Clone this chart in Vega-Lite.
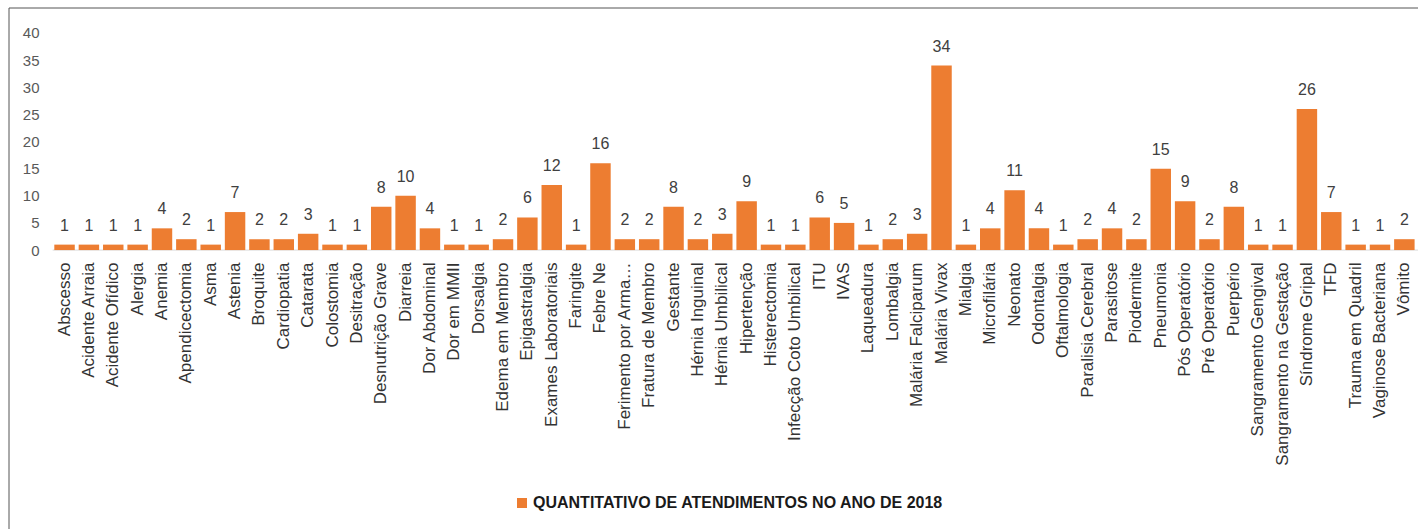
{
  "$schema": "https://vega.github.io/schema/vega-lite/v6.json",
  "width": 1409,
  "height": 521,
  "autosize": {"type": "none"},
  "padding": {"left": 9, "top": 8, "right": 0, "bottom": 0},
  "background": "#ffffff",
  "config": {"view": {"stroke": null}, "font": "Liberation Sans"},
  "datasets": {
    "atend": [
      {"Categoria": "Abscesso", "Valor": 1},
      {"Categoria": "Acidente Arraia", "Valor": 1},
      {"Categoria": "Acidente Ofídico", "Valor": 1},
      {"Categoria": "Alergia", "Valor": 1},
      {"Categoria": "Anemia", "Valor": 4},
      {"Categoria": "Apendicectomia", "Valor": 2},
      {"Categoria": "Asma", "Valor": 1},
      {"Categoria": "Astenia", "Valor": 7},
      {"Categoria": "Broquite", "Valor": 2},
      {"Categoria": "Cardiopatia", "Valor": 2},
      {"Categoria": "Catarata", "Valor": 3},
      {"Categoria": "Colostomia", "Valor": 1},
      {"Categoria": "Desitração", "Valor": 1},
      {"Categoria": "Desnutrição Grave", "Valor": 8},
      {"Categoria": "Diarreia", "Valor": 10},
      {"Categoria": "Dor Abdominal", "Valor": 4},
      {"Categoria": "Dor em MMII", "Valor": 1},
      {"Categoria": "Dorsalgia", "Valor": 1},
      {"Categoria": "Edema em Membro", "Valor": 2},
      {"Categoria": "Epigastralgia", "Valor": 6},
      {"Categoria": "Exames Laboratoriais", "Valor": 12},
      {"Categoria": "Faringite", "Valor": 1},
      {"Categoria": "Febre Ne", "Valor": 16},
      {"Categoria": "Ferimento por Arma…", "Valor": 2},
      {"Categoria": "Fratura de Membro", "Valor": 2},
      {"Categoria": "Gestante", "Valor": 8},
      {"Categoria": "Hérnia Inguinal", "Valor": 2},
      {"Categoria": "Hérnia Umbilical", "Valor": 3},
      {"Categoria": "Hipertenção", "Valor": 9},
      {"Categoria": "Histerectomia", "Valor": 1},
      {"Categoria": "Infecção Coto Umbilical", "Valor": 1},
      {"Categoria": "ITU", "Valor": 6},
      {"Categoria": "IVAS", "Valor": 5},
      {"Categoria": "Laqueadura", "Valor": 1},
      {"Categoria": "Lombalgia", "Valor": 2},
      {"Categoria": "Malária Falciparum", "Valor": 3},
      {"Categoria": "Malária Vivax", "Valor": 34},
      {"Categoria": "Mialgia", "Valor": 1},
      {"Categoria": "Microfilária", "Valor": 4},
      {"Categoria": "Neonato", "Valor": 11},
      {"Categoria": "Odontalgia", "Valor": 4},
      {"Categoria": "Oftalmologia", "Valor": 1},
      {"Categoria": "Paralisia Cerebral", "Valor": 2},
      {"Categoria": "Parasitose", "Valor": 4},
      {"Categoria": "Piodermite", "Valor": 2},
      {"Categoria": "Pneumonia", "Valor": 15},
      {"Categoria": "Pós Operatório", "Valor": 9},
      {"Categoria": "Pré Operatório", "Valor": 2},
      {"Categoria": "Puerpério", "Valor": 8},
      {"Categoria": "Sangramento Gengival", "Valor": 1},
      {"Categoria": "Sangramento na Gestação", "Valor": 1},
      {"Categoria": "Síndrome Gripal", "Valor": 26},
      {"Categoria": "TFD", "Valor": 7},
      {"Categoria": "Trauma em Quadril", "Valor": 1},
      {"Categoria": "Vaginose Bacteriana", "Valor": 1},
      {"Categoria": "Vômito", "Valor": 2}
    ],
    "moldura": [{"parte": "frame"}]
  },
  "resolve": {"scale": {"x": "independent"}, "axis": {"x": "independent"}},
  "layer": [
    {
      "data": {"name": "moldura"},
      "mark": {"type": "rule", "color": "#555555", "strokeWidth": 1},
      "encoding": {"y": {"datum": 44.6, "type": "quantitative"}}
    },
    {
      "data": {"name": "moldura"},
      "mark": {"type": "rule", "color": "#555555", "strokeWidth": 1},
      "encoding": {
        "x": {"datum": 0, "type": "quantitative", "scale": {"domain": [0, 1], "nice": false, "zero": false}, "axis": null}
      }
    },
    {
      "data": {"name": "moldura"},
      "mark": {"type": "rule", "color": "#d9d9d9", "strokeWidth": 1},
      "encoding": {
        "x": {"datum": 0.031, "type": "quantitative", "scale": {"domain": [0, 1], "nice": false, "zero": false}, "axis": null},
        "x2": {"datum": 1},
        "y": {"datum": 0, "type": "quantitative"}
      }
    },
    {
      "data": {"name": "atend"},
      "layer": [
        {
          "mark": {"type": "bar", "color": "#ED7D31"},
          "encoding": {
            "x": {
              "field": "Categoria", "type": "nominal", "sort": null,
              "scale": {"paddingInner": 0.16, "paddingOuter": 1.036, "align": 0.93},
              "axis": {
                "title": null, "orient": "bottom", "offset": -279, "domain": false, "ticks": false,
                "labelAngle": -90, "labelPadding": 12, "labelFontSize": 17, "labelColor": "#333333",
                "labelFont": "Liberation Sans", "labelLimit": 300
              }
            },
            "y": {
              "field": "Valor", "type": "quantitative",
              "scale": {"domain": [-51.4, 44.6], "nice": false, "zero": false},
              "axis": {
                "title": null, "values": [0, 5, 10, 15, 20, 25, 30, 35, 40], "grid": false, "domain": false,
                "ticks": false, "offset": -31, "labelPadding": 1, "labelFontSize": 15, "labelColor": "#595959",
                "labelFont": "Liberation Sans"
              }
            },
            "color": {
              "datum": "QUANTITATIVO DE ATENDIMENTOS NO ANO DE 2018",
              "type": "nominal",
              "scale": {"range": ["#ED7D31"]},
              "legend": {
                "title": null, "orient": "none", "legendX": 505, "legendY": 487,
                "symbolType": "square", "symbolSize": 100, "symbolStrokeWidth": 0,
                "labelFontSize": 16, "labelFontWeight": "bold", "labelColor": "#1a1a1a", "labelFont": "Liberation Sans", "labelLimit": 600,
                "labelOffset": 3, "padding": 0
              }
            }
          }
        },
        {
          "mark": {"type": "text", "baseline": "alphabetic", "dy": -14, "fontSize": 16, "color": "#404040", "font": "Liberation Sans"},
          "encoding": {
            "x": {"field": "Categoria", "type": "nominal", "sort": null},
            "y": {"field": "Valor", "type": "quantitative"},
            "text": {"field": "Valor", "type": "quantitative"}
          }
        }
      ]
    }
  ]
}
